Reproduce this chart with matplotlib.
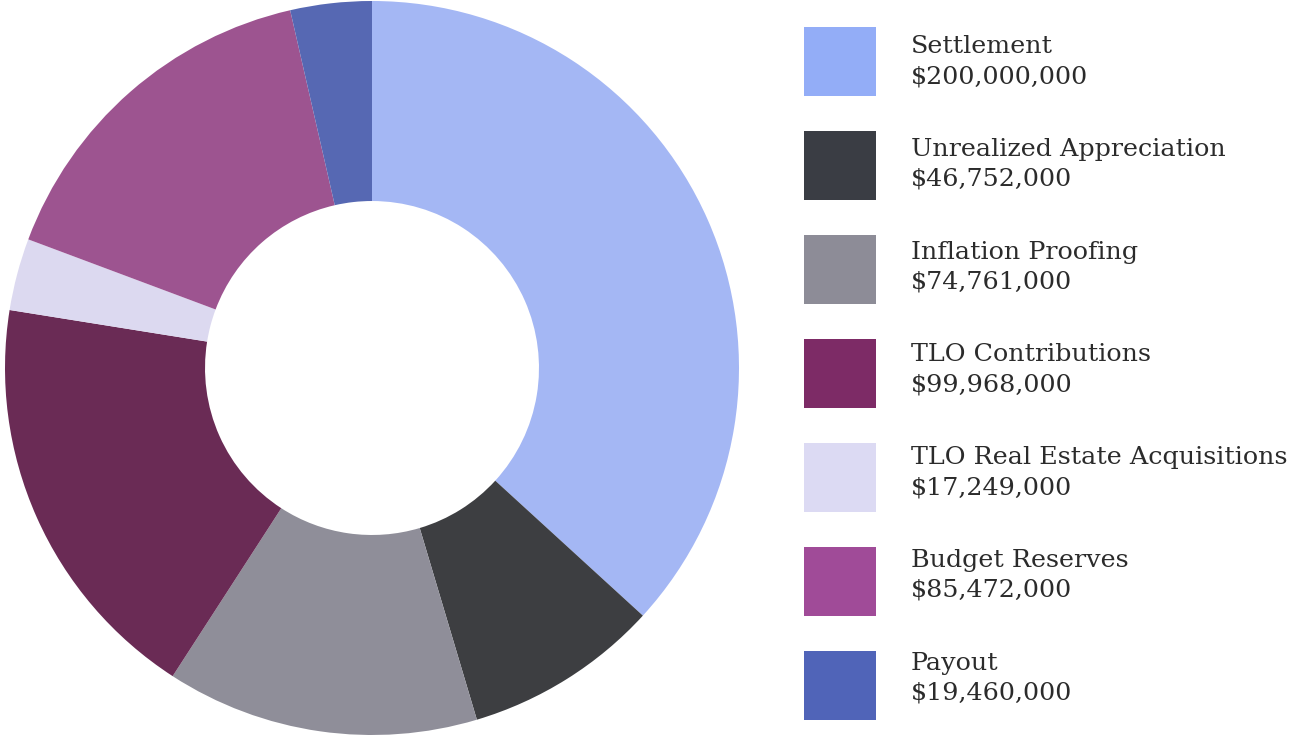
import matplotlib
matplotlib.use("Agg")
import matplotlib.pyplot as plt
from matplotlib.patches import Rectangle

# allocation of the fund, in dollars
categories = ["Settlement", "Unrealized Appreciation", "Inflation Proofing",
              "TLO Contributions", "TLO Real Estate Acquisitions",
              "Budget Reserves", "Payout"]
amounts = [200000000, 46752000, 74761000, 99968000, 17249000, 85472000, 19460000]

wedge_colors = ["#a4b7f4", "#3d3e41", "#8f8e99", "#6a2b55", "#dcd9f0", "#9d5490", "#5668b3"]
legend_colors = ["#93adf7", "#3a3d44", "#8d8c97", "#7d2b66", "#dcdaf3", "#a04b98", "#5064b8"]

plt.rcParams['font.family'] = ['DejaVu Serif']

fig = plt.figure(figsize=(12.94, 7.35), dpi=100)

# donut
ax = fig.add_axes([5 / 1294, 0 / 735, 734 / 1294, 734 / 735])
ax.pie(amounts, colors=wedge_colors, startangle=90, counterclock=False,
       radius=1.0, wedgeprops=dict(width=0.545, linewidth=0))
ax.set_aspect("equal")
ax.set_xlim(-1, 1)
ax.set_ylim(-1, 1)

# legend, drawn in pixel coordinates
lax = fig.add_axes([0, 0, 1, 1])
lax.set_xlim(0, 1294)
lax.set_ylim(735, 0)
lax.axis("off")
for i, (name, amt) in enumerate(zip(categories, amounts)):
    sq_top = 27 + i * 104
    base = 53 + i * 102.8
    lax.add_patch(Rectangle((804, sq_top), 72, 69, facecolor=legend_colors[i], edgecolor="none"))
    lax.text(911, base, name, fontsize=18.3, color="#2b2b2b", va="baseline", ha="left")
    lax.text(911, base + 30, "${:,}".format(amt), fontsize=18.3, color="#2b2b2b",
             va="baseline", ha="left")

fig.savefig("out.png", dpi=100)
